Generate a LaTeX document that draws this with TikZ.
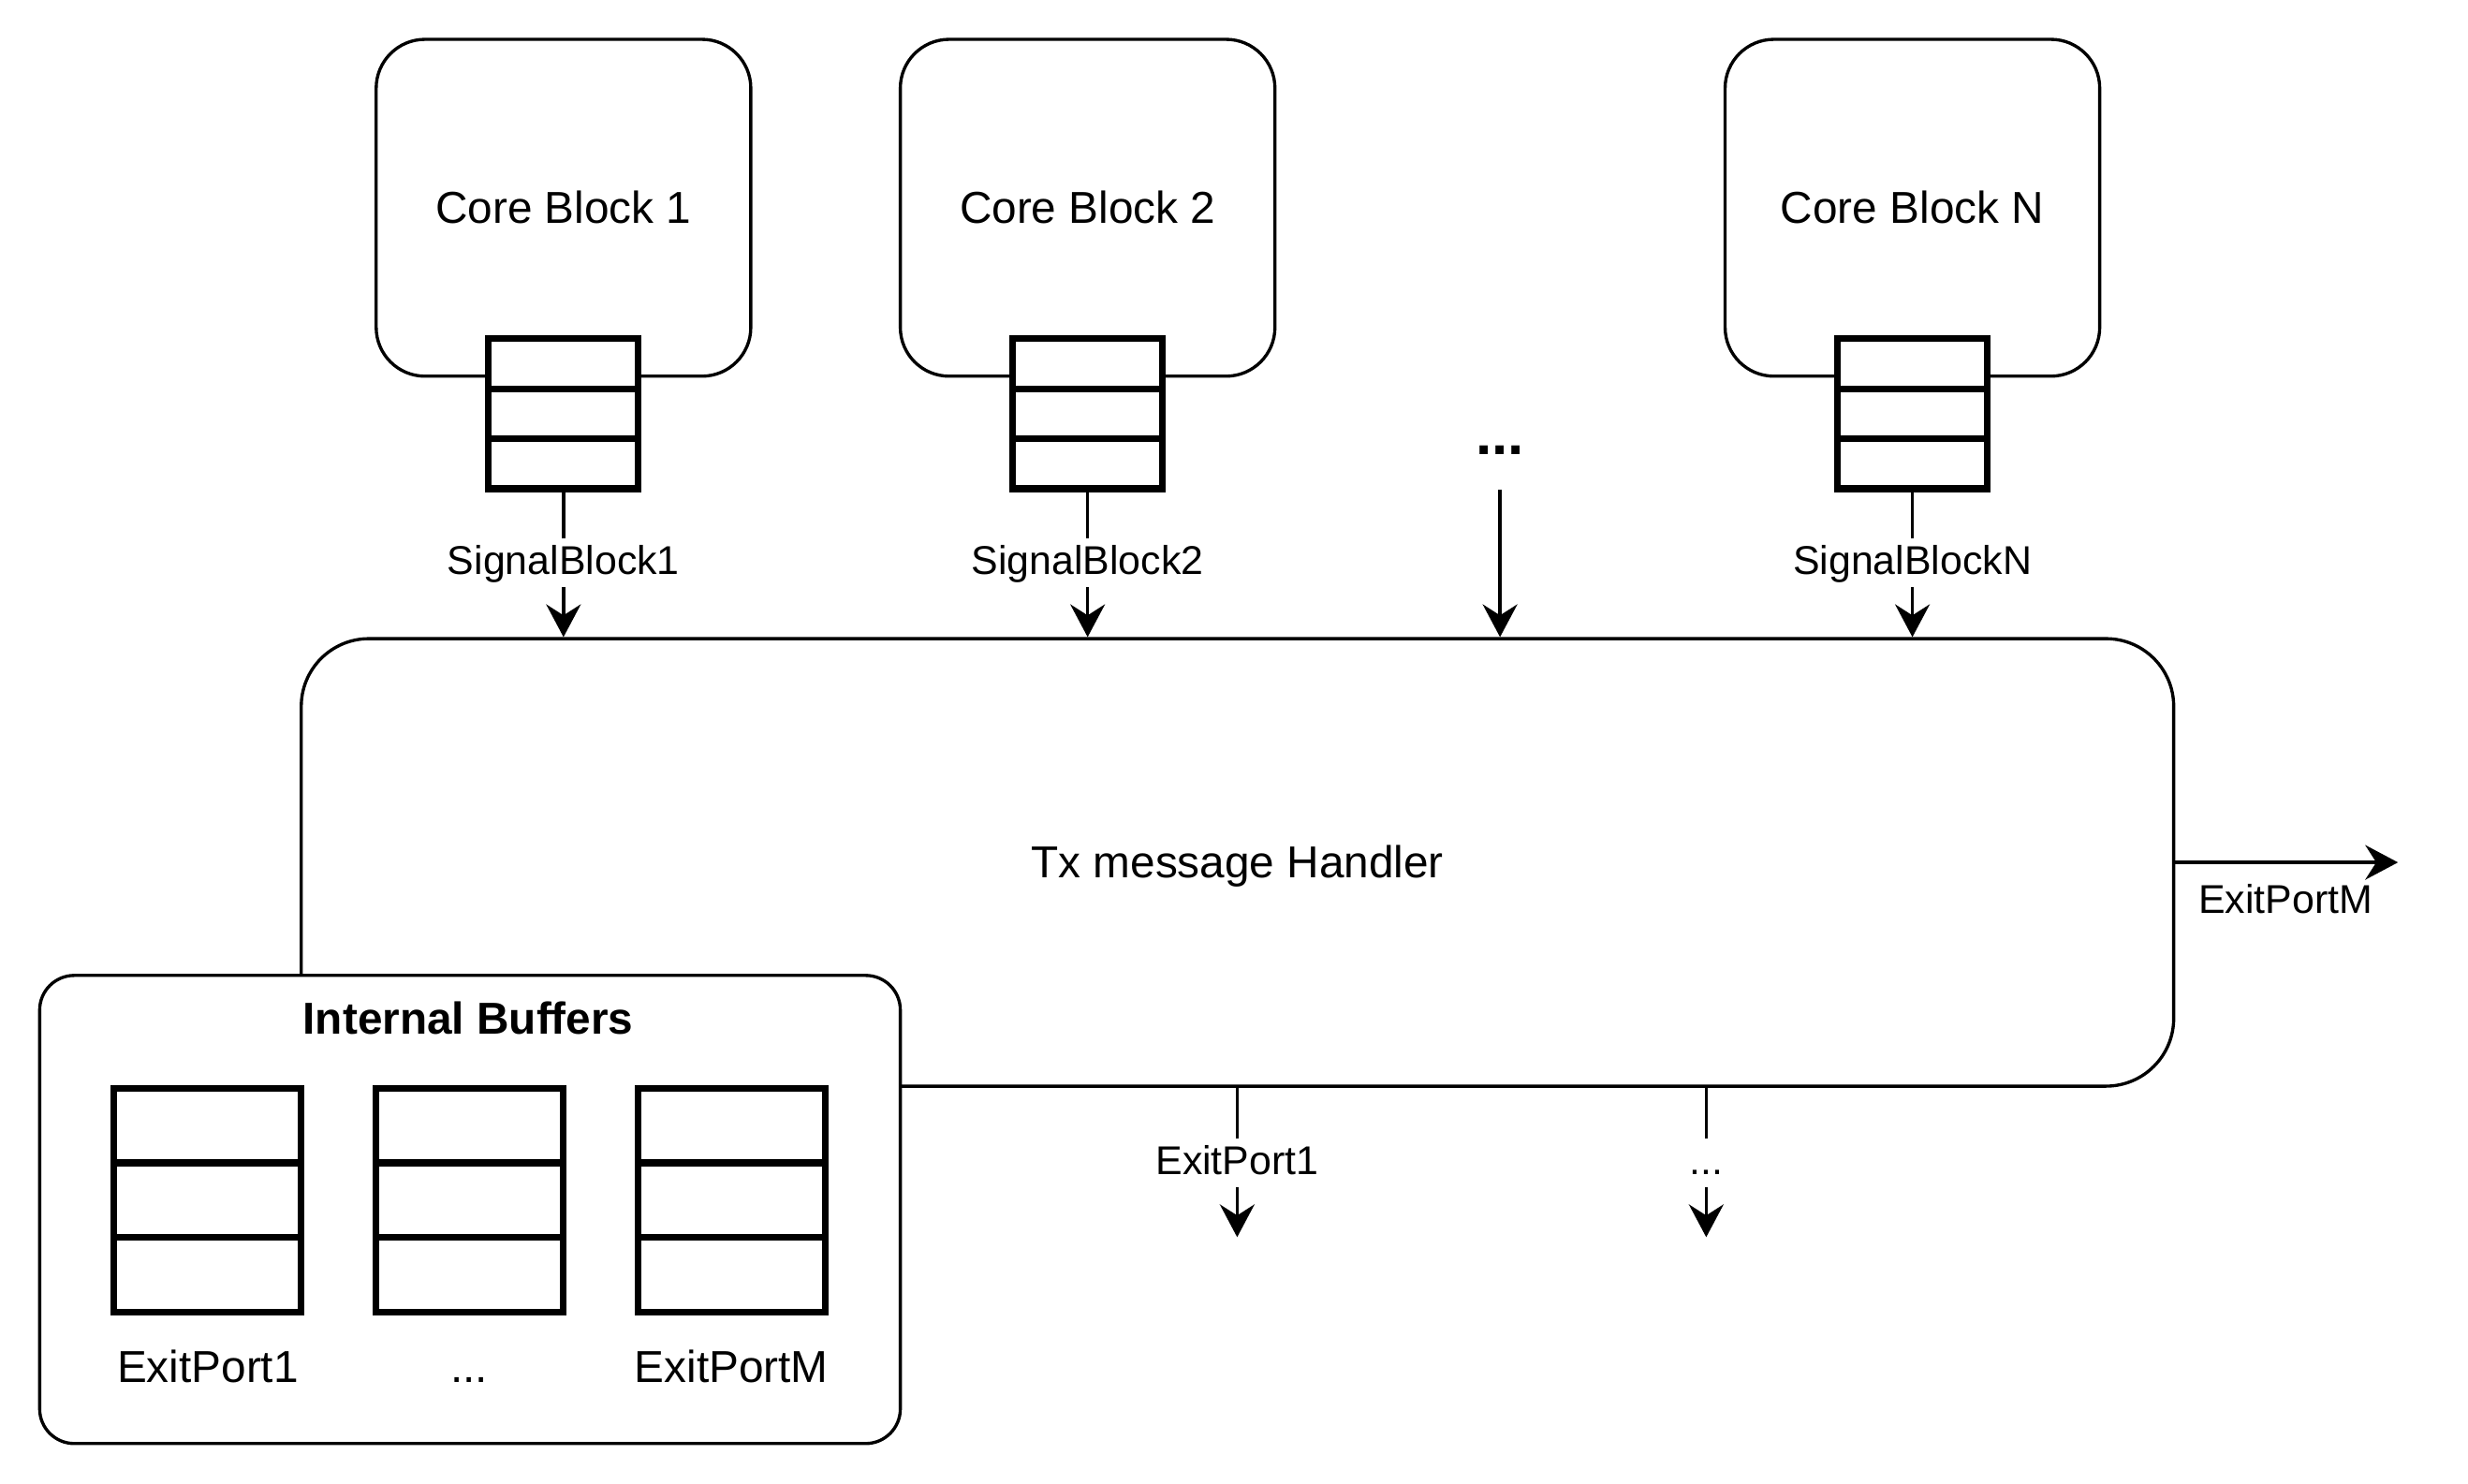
\documentclass[tikz,border=0pt]{standalone}
\usepackage{fontspec}
\setmainfont{Liberation Sans}
\usetikzlibrary{arrows.meta,calc}
\newcommand\fsMain{\fontsize{28.4pt}{34pt}\selectfont}
\newcommand\fsEdge{\fontsize{25.5pt}{30pt}\selectfont}
\newcommand\fsDots{\fontsize{37pt}{44pt}\selectfont\bfseries}
\begin{document}
\begin{tikzpicture}[x=1pt,y=-1pt,
  thinline/.style={line width=2pt},
  arr/.style={line width=2pt,-{Stealth[length=20.8pt,width=22pt,inset=7pt]}},
  corebox/.style={draw,line width=2pt,rounded corners=31pt,minimum width=238pt,minimum height=214pt,font=\fsMain,text height=20pt,text depth=0pt},
  queuebox/.style={draw,fill=white,line width=4.2pt,minimum width=95.2pt,minimum height=95.2pt,inner sep=0pt,outer sep=0pt},
  bufbox/.style={draw,fill=white,line width=4.2pt,minimum width=119pt,minimum height=142.4pt,inner sep=0pt,outer sep=0pt},
  edgelabel/.style={fill=white,font=\fsEdge,inner xsep=2pt,inner ysep=3pt,text height=20pt,text depth=5pt},
  divider/.style={line width=4.2pt}
]
\useasboundingbox (0,0) rectangle (1568,942.3);

% Tx message handler
\node[draw,line width=2pt,rounded corners=43pt,minimum width=1189.6pt,minimum height=284.3pt,
      font=\fsMain,text height=20pt,text depth=0pt] (h) at (786.2,547.9) {Tx message Handler};

% Core blocks
\node[corebox] (cb1) at (358,132) {Core Block 1};
\node[corebox] (cb2) at (691,132) {Core Block 2};
\node[corebox] (cbN) at (1215,132) {Core Block N};

% Queues on core blocks
\node[queuebox] (q1) at (358,262.9) {};
\node[queuebox] (q2) at (691,262.9) {};
\node[queuebox] (qN) at (1215,262.9) {};

% Internal buffers box
\node[draw,fill=white,line width=2pt,rounded corners=22pt,minimum width=546.8pt,minimum height=297.4pt] (ib) at (298.6,768.4) {};
\node[font=\fsMain\bfseries,anchor=base] (ibt) at (297.5,657) {Internal Buffers};

\node[bufbox] (b1) at (132,762.5) {};
\node[bufbox] (b2) at (298.2,762.5) {};
\node[bufbox] (b3) at (464.7,762.5) {};

\foreach \q in {q1,q2,qN,b1,b2,b3}{
  \draw[divider] ($(\q.north west)!1/3!(\q.south west)$) -- ($(\q.north east)!1/3!(\q.south east)$);
  \draw[divider] ($(\q.north west)!2/3!(\q.south west)$) -- ($(\q.north east)!2/3!(\q.south east)$);
}

\node[font=\fsMain,anchor=base] (l1) at (132,878.4) {ExitPort1};
\node[font=\fsMain,anchor=base] (l2) at (298.2,878.4) {...};
\node[font=\fsMain,anchor=base] (l3) at (464.7,878.4) {ExitPortM};

% Signal arrows
\draw[arr] (q1.south) -- node[edgelabel] {SignalBlock1} (q1.south |- h.north);
\draw[arr] (q2.south) -- node[edgelabel] {SignalBlock2} (q2.south |- h.north);
\draw[arr] (qN.south) -- node[edgelabel] {SignalBlockN} (qN.south |- h.north);

% dots in the top row
\node[font=\fsDots,anchor=base] (dots) at (953,289) {...};
\coordinate (dtop) at (953,311);
\draw[arr] (dtop) -- (dtop |- h.north);

% ExitPortM to the right
\coordinate (outM) at (1523.5,547.9);
\draw[arr] (h.east) -- (outM);
\node[font=\fsEdge,anchor=base] (lM) at (1452,580) {ExitPortM};

% Exit ports below
\coordinate (e1) at (786,786);
\coordinate (e2) at (1084,786);
\draw[arr] (e1 |- h.south) -- node[edgelabel] {ExitPort1} (e1);
\draw[arr] (e2 |- h.south) -- node[edgelabel] {...} (e2);
\end{tikzpicture}
\end{document}
